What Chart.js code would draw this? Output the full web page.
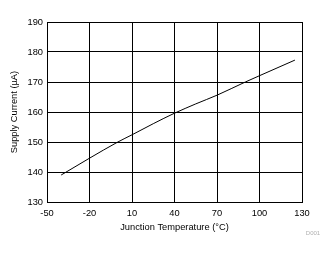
<!DOCTYPE html>
<html><head><meta charset="utf-8">
<script src="https://cdn.jsdelivr.net/npm/chart.js@4/dist/chart.umd.min.js"></script>
<style>html,body{margin:0;padding:0;background:#fff}#wrap{width:334px;height:254px}</style>
</head><body><div id="wrap"><canvas id="c" width="334" height="254"></canvas></div>
<script>
const temperatures = [-40, -20, 0, 10, 25, 40, 55, 70, 90, 100, 125];
const supplyCurrent = [139, 144.6, 150, 152.4, 156.1, 159.6, 162.7, 165.6, 170, 172.1, 177.3];
const xTitle = 'Junction Temperature (°C)';
const yTitle = 'Supply Current (µA)';
const watermark = 'D001';

const font = {family: '"Liberation Sans", Arial, sans-serif', size: 9.3};

const wmPlugin = {
  id: 'wm',
  afterDraw(chart) {
    const ctx = chart.ctx;
    ctx.save();
    ctx.font = '6px "Liberation Sans", Arial, sans-serif';
    ctx.fillStyle = '#b0b0b0';
    ctx.textAlign = 'center';
    ctx.textBaseline = 'middle';
    ctx.fillText(watermark, 313, 233);
    ctx.restore();
  }
};

new Chart(document.getElementById('c'), {
  type: 'line',
  data: {
    datasets: [{
      data: temperatures.map((t, i) => ({x: t, y: supplyCurrent[i]})),
      borderColor: '#000',
      borderWidth: 1,
      pointRadius: 0,
      cubicInterpolationMode: 'monotone',
      fill: false
    }]
  },
  options: {
    responsive: false,
    animation: false,
    devicePixelRatio: 1,
    layout: {padding: {left: 0, top: 22, right: 32, bottom: 0}},
    plugins: {legend: {display: false}, tooltip: {enabled: false}},
    scales: {
      x: {
        type: 'linear', min: -50, max: 130,
        ticks: {stepSize: 30, color: '#000', font: font, padding: 6, maxRotation: 0},
        grid: {color: '#000', lineWidth: 1, drawTicks: false},
        border: {color: '#000', width: 1},
        title: {display: true, text: xTitle, color: '#000', font: font, padding: {top: 0, bottom: 21}},
        afterFit(s) { s.height = 52; }
      },
      y: {
        min: 130, max: 190,
        ticks: {stepSize: 10, color: '#000', font: font, padding: 4},
        grid: {color: '#000', lineWidth: 1, drawTicks: false},
        border: {color: '#000', width: 1},
        title: {display: true, text: yTitle, color: '#000', font: font, padding: {top: 9, bottom: 0}},
        afterFit(s) { s.width = 47; }
      }
    }
  },
  plugins: [wmPlugin, {
    id: 'frame',
    afterDatasetsDraw(chart) {
      const a = chart.chartArea, ctx = chart.ctx;
      ctx.save();
      ctx.strokeStyle = '#000'; ctx.lineWidth = 1;
      ctx.strokeRect(Math.round(a.left) + 0.5, Math.round(a.top) + 0.5, Math.round(a.right - a.left), Math.round(a.bottom - a.top));
      ctx.restore();
    }
  }]
});
</script></body></html>
